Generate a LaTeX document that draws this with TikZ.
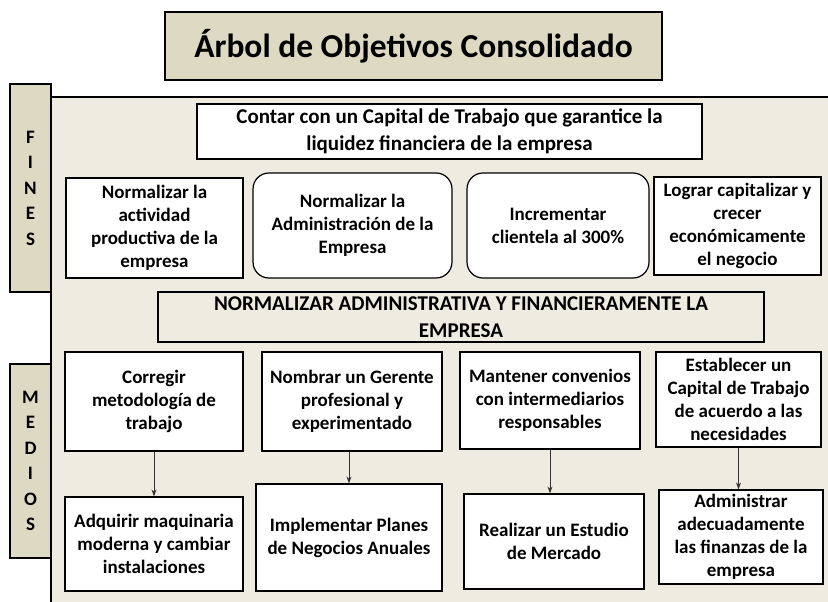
\documentclass[tikz,border=0pt]{standalone}
\usepackage{fontspec}
\setmainfont{Carlito}
\usepackage{tikz}
\usetikzlibrary{arrows.meta}

\definecolor{tanfill}{HTML}{DDD9C3}
\definecolor{panelfill}{HTML}{EEECE1}

\begin{document}
\begin{tikzpicture}[x=1pt,y=-1pt,
		box/.style={draw=black,fill=white,line width=1.2pt,
			align=center,inner sep=1pt,
			font=\bfseries\fontsize{19}{23}\selectfont},
		rbox/.style={box,rounded corners=16pt},
		wide/.style={box,font=\bfseries\fontsize{21}{26.5}\selectfont},
		tag/.style={draw=black,fill=tanfill,line width=1.2pt,
			align=center,inner sep=0pt,
			font=\bfseries\fontsize{19}{25.5}\selectfont},
		arr/.style={-{Stealth[length=7pt,width=5pt]},line width=0.9pt,draw=black!80}]

		\useasboundingbox (0,0) rectangle (828,602);

		% fondo
		\fill[panelfill] (51,97) rectangle (828,602);
		\draw[line width=1.4pt] (828,97) -- (51,97) -- (51,602);

		\node[tag,minimum width=497,minimum height=68,
			font=\bfseries\fontsize{33.5}{38}\selectfont] (titulo) at (413.5,46)
			{Árbol de Objetivos Consolidado};

		\node[tag,minimum width=41,minimum height=208] (fines) at (30.5,188)
			{F\\I\\N\\E\\S};
		\node[tag,minimum width=41,minimum height=194] (medios) at (30.5,461)
			{M\\E\\D\\I\\O\\S};

		% fines
		\node[wide,minimum width=505,minimum height=55] (fin) at (449.5,131.5)
			{Contar con un Capital de Trabajo que garantice la\\
			 liquidez financiera de la empresa};

		\node[box,minimum width=177,minimum height=100] (f1) at (154.5,228)
			{Normalizar la\\actividad\\productiva de la\\empresa};
		\node[rbox,minimum width=199,minimum height=105] (f2) at (352.5,225.5)
			{Normalizar la\\Administración de la\\Empresa};
		\node[rbox,minimum width=182,minimum height=105] (f3) at (558,225.5)
			{Incrementar\\clientela al 300\%};
		\node[box,minimum width=167,minimum height=98] (f4) at (737.5,226)
			{Lograr capitalizar y\\crecer\\económicamente\\el negocio};

		% objetivo central
		\node[wide,fill=none,minimum width=606,minimum height=50] (obj) at (461,317)
			{NORMALIZAR ADMINISTRATIVA Y FINANCIERAMENTE LA\\EMPRESA};

		% medios
		\node[box,minimum width=178,minimum height=99] (m1) at (154,401.5)
			{Corregir\\metodología de\\trabajo};
		\node[box,minimum width=180,minimum height=99] (m2) at (352,401.5)
			{Nombrar un Gerente\\profesional y\\experimentado};
		\node[box,minimum width=180,minimum height=97] (m3) at (550,400.5)
			{Mantener convenios\\con intermediarios\\responsables};
		\node[box,minimum width=165,minimum height=95] (m4) at (738.5,399.5)
			{Establecer un\\Capital de Trabajo\\de acuerdo a las\\necesidades};

		\node[box,minimum width=178,minimum height=94] (a1) at (154,544)
			{Adquirir maquinaria\\moderna y cambiar\\instalaciones};
		\node[box,minimum width=186,minimum height=107] (a2) at (349,537.5)
			{Implementar Planes\\de Negocios Anuales};
		\node[box,minimum width=180,minimum height=95] (a3) at (554,541.5)
			{Realizar un Estudio\\de Mercado};
		\node[box,minimum width=164,minimum height=94] (a4) at (741,537)
			{Administrar\\adecuadamente\\las finanzas de la\\empresa};

		\draw[arr] (m1.south) -- (m1.south |- a1.north);
		\draw[arr] (a2.north |- m2.south) -- (a2.north);
		\draw[arr] (m3.south) -- (m3.south |- a3.north);
		\draw[arr] (m4.south) -- (m4.south |- a4.north);

	\end{tikzpicture}
\end{document}
